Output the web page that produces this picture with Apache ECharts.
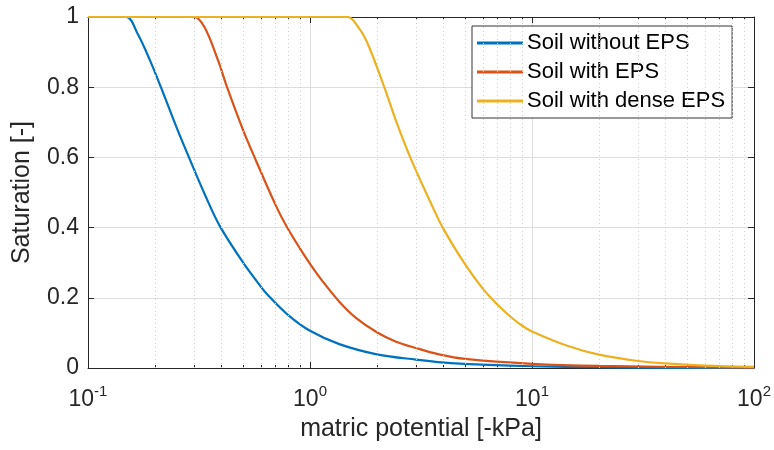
<!DOCTYPE html>
<html>
<head>
<meta charset="utf-8">
<script src="https://cdn.jsdelivr.net/npm/echarts@6/dist/echarts.min.js"></script>
<style>
  html, body { margin: 0; padding: 0; background: #fff; }
  #chart { width: 774px; height: 450px; }
</style>
</head>
<body>
<div id="chart"></div>
<script>
// 数据
var blueX = [0.1, 0.13, 0.149, 0.168, 0.19, 0.213, 0.25, 0.285, 0.341, 0.392, 0.5, 0.6, 0.65, 0.8, 1, 1.355, 2, 3, 4.3, 10, 30, 100];
var blueY = [1, 1, 1, 0.95, 0.877, 0.8, 0.687, 0.6, 0.485, 0.405, 0.3, 0.232, 0.206, 0.15, 0.106, 0.068, 0.039, 0.024, 0.014, 0.005, 0.001, 0.0002];

var redX = [0.1, 0.2, 0.26, 0.3, 0.334, 0.385, 0.423, 0.5, 0.57, 0.7, 0.78, 0.9, 1, 1.14, 1.355, 1.61, 2, 2.44, 3, 3.81, 5, 10, 20, 100];
var redY = [1, 1, 1, 1, 0.972, 0.877, 0.8, 0.677, 0.592, 0.464, 0.406, 0.341, 0.297, 0.247, 0.189, 0.143, 0.102, 0.075, 0.057, 0.039, 0.026, 0.012, 0.006, 0.001];

var yellowX = [0.1, 0.5, 1, 1.3, 1.477, 1.667, 1.8, 2, 2.16, 2.5, 2.85, 3.5, 4, 5, 6, 7, 8, 9, 10, 14.3, 20, 30, 40, 60, 100];
var yellowY = [1, 1, 1, 1, 1, 0.967, 0.93, 0.858, 0.8, 0.686, 0.595, 0.47, 0.395, 0.295, 0.226, 0.18, 0.146, 0.121, 0.104, 0.064, 0.038, 0.02, 0.013, 0.007, 0.003];

var seriesNames = ["Soil without EPS", "Soil with EPS", "Soil with dense EPS"];
var seriesColors = ["#0072BD", "#D95319", "#EDB120"];
var minorVals = [0.2, 0.3, 0.4, 0.5, 0.6, 0.7, 0.8, 0.9, 2, 3, 4, 5, 6, 7, 8, 9, 20, 30, 40, 50, 60, 70, 80, 90];
var yTicks = [0, 0.2, 0.4, 0.6, 0.8, 1];

var font = "'Liberation Sans', Arial, Helvetica, sans-serif";
var axisColor = "#262626";

function pairs(xs, ys) {
  var arr = [];
  for (var i = 0; i < xs.length; i++) arr.push([xs[i], ys[i]]);
  return arr;
}

function supLabel(v) {
  var p = Math.round(Math.log10(v));
  return "{b|10}{s|" + p + "}";
}

var chart = echarts.init(document.getElementById("chart"));

var lineSeries = [pairs(blueX, blueY), pairs(redX, redY), pairs(yellowX, yellowY)].map(function (d, i) {
  return {
    name: seriesNames[i],
    type: "line",
    data: d,
    xAxisIndex: 0,
    yAxisIndex: 0,
    symbol: "none",
    smooth: 0.35,
    z: 3 + i,
    lineStyle: { color: seriesColors[i], width: 2.2 },
    itemStyle: { color: seriesColors[i] }
  };
});

// 次网格线（虚线）
var minorGrid = {
  type: "line",
  data: [],
  xAxisIndex: 0,
  yAxisIndex: 0,
  silent: true,
  z: 1,
  markLine: {
    silent: true,
    symbol: ["none", "none"],
    label: { show: false },
    animation: false,
    lineStyle: { color: "#cfcfcf", type: [1, 3], width: 1 },
    data: minorVals.map(function (v) { return { xAxis: v }; })
  }
};

var logAxisBase = {
  type: "log",
  logBase: 10,
  min: 0.1,
  max: 100
};

var option = {
  animation: false,
  backgroundColor: "#fff",
  grid: { left: 88, right: 19, top: 17, bottom: 82 },
  legend: {
    data: seriesNames.map(function (n) { return { name: n, icon: "rect" }; }),
    orient: "vertical",
    left: 472,
    top: 26,
    padding: [6, 7, 6, 5],
    itemWidth: 46,
    itemHeight: 3,
    itemGap: 7,
    backgroundColor: "#fff",
    borderColor: "#333",
    borderWidth: 1,
    textStyle: { fontFamily: font, fontSize: 22, color: "#000", padding: [0, 0, 0, -1] }
  },
  xAxis: [
    Object.assign({}, logAxisBase, {
      position: "bottom",
      name: "matric potential [-kPa]",
      nameLocation: "middle",
      nameGap: 49,
      nameTextStyle: { fontFamily: font, fontSize: 25, color: axisColor },
      axisLine: { show: true, lineStyle: { color: axisColor, width: 1 } },
      axisTick: { show: true, inside: true, length: 6, lineStyle: { color: axisColor } },
      minorTick: { show: false },
      splitLine: { show: true, lineStyle: { color: "#dedede", width: 1 } },
      axisLabel: {
        margin: 16,
        formatter: supLabel,
        rich: {
          b: { fontFamily: font, fontSize: 23, color: axisColor, verticalAlign: "bottom", padding: [4, 0, 0, 0] },
          s: { fontFamily: font, fontSize: 15, color: axisColor, verticalAlign: "top" }
        }
      }
    }),
    Object.assign({}, logAxisBase, {
      position: "bottom",
      axisLine: { show: false },
      axisTick: { show: true, inside: true, length: 3, customValues: minorVals, lineStyle: { color: axisColor } },
      axisLabel: { show: false },
      splitLine: { show: false }
    }),
    Object.assign({}, logAxisBase, {
      position: "top",
      axisLine: { show: true, lineStyle: { color: axisColor, width: 1 } },
      axisTick: { show: true, inside: true, length: 6, lineStyle: { color: axisColor } },
      axisLabel: { show: false },
      splitLine: { show: false }
    }),
    Object.assign({}, logAxisBase, {
      position: "top",
      axisLine: { show: false },
      axisTick: { show: true, inside: true, length: 3, customValues: minorVals, lineStyle: { color: axisColor } },
      axisLabel: { show: false },
      splitLine: { show: false }
    })
  ],
  yAxis: [
    {
      type: "value",
      position: "left",
      min: 0,
      max: 1,
      interval: 0.2,
      name: "Saturation [-]",
      nameLocation: "middle",
      nameGap: 53,
      nameTextStyle: { fontFamily: font, fontSize: 25, color: axisColor },
      axisLine: { show: true, lineStyle: { color: axisColor, width: 1 } },
      axisTick: { show: true, inside: true, length: 6, lineStyle: { color: axisColor } },
      splitLine: { show: true, lineStyle: { color: "#dedede", width: 1 } },
      axisLabel: {
        margin: 9,
        fontFamily: font,
        fontSize: 23,
        color: axisColor,
        customValues: yTicks,
        formatter: function (v) { return String(+v.toFixed(1)); }
      }
    },
    {
      type: "value",
      position: "right",
      min: 0,
      max: 1,
      interval: 0.2,
      axisLine: { show: true, lineStyle: { color: axisColor, width: 1 } },
      axisTick: { show: true, inside: true, length: 6, lineStyle: { color: axisColor } },
      axisLabel: { show: false },
      splitLine: { show: false }
    }
  ],
  series: [minorGrid].concat(lineSeries)
};

chart.setOption(option);
</script>
</body>
</html>
